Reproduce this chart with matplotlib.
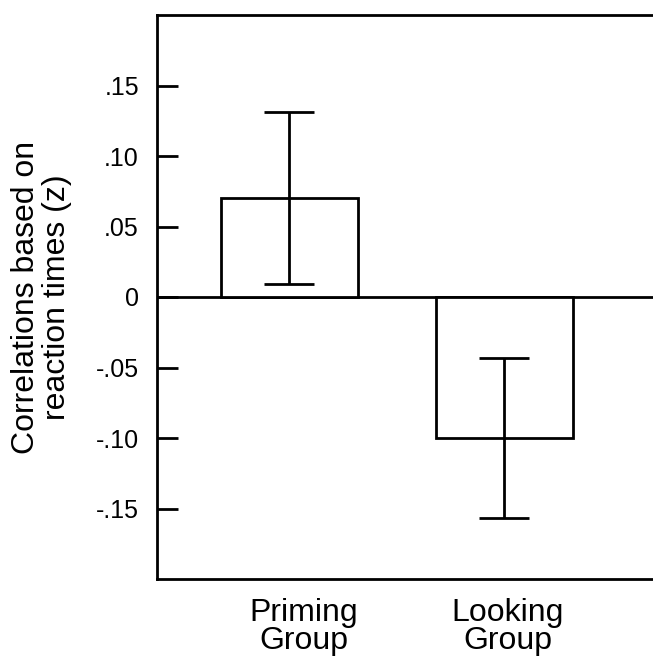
import matplotlib
matplotlib.use("Agg")
import matplotlib.pyplot as plt
import matplotlib.transforms as mtransforms

groups = ["Priming\nGroup", "Looking\nGroup"]
means = [0.07, -0.10]
errors = [0.061, 0.057]
yticks = [-0.15, -0.10, -0.05, 0.0, 0.05, 0.10, 0.15]
ytick_labels = ["-.15", "-.10", "-.05", "0", ".05", ".10", ".15"]

plt.rcParams['font.family'] = ['Liberation Sans', 'DejaVu Sans']
big = 23
small = 18

fig = plt.figure(figsize=(6.53, 6.58), dpi=100)
ax = fig.add_axes([157/653, 1 - 579/658, 496/653, (579 - 15)/658])

x = list(range(len(groups)))
ax.bar(x, means, width=0.637, color="white", edgecolor="black", linewidth=2.0, zorder=2)
ax.errorbar(x, means, yerr=errors, fmt="none", ecolor="black", elinewidth=2.0,
            capsize=18, capthick=2.0, zorder=3)
ax.axhline(0, color="black", linewidth=2.0, zorder=1)

ax.set_xlim(-0.616, 1.691)
ax.set_ylim(-0.2, 0.2)
ax.set_yticks(yticks)
ax.set_yticklabels(ytick_labels, fontsize=small)
ax.set_xticks(x)
ax.set_xticklabels(groups, fontsize=big, linespacing=0.9)
ax.tick_params(axis="y", direction="in", length=15, width=2.0, pad=13)
ax.tick_params(axis="x", length=0, pad=14)

offsets = [14, 3]
for lbl, dx in zip(ax.get_xticklabels(), offsets):
    lbl.set_transform(lbl.get_transform() + mtransforms.ScaledTranslation(dx/100, 0, fig.dpi_scale_trans))

for s in ["left", "top", "bottom"]:
    ax.spines[s].set_linewidth(2.0)
ax.spines["right"].set_visible(False)

ax.set_ylabel("Correlations based on\nreaction times (z)", fontsize=big, linespacing=1.05, labelpad=17)

fig.savefig("out.png", dpi=100)
